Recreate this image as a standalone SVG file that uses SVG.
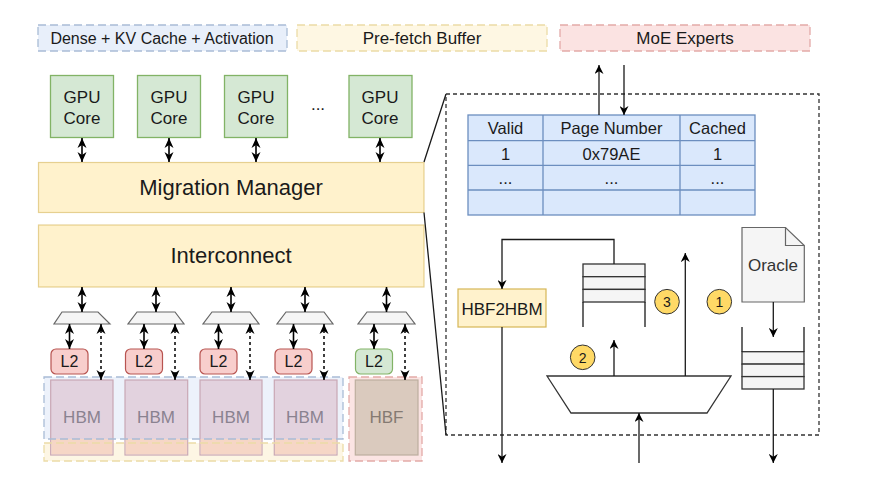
<svg xmlns="http://www.w3.org/2000/svg" width="876" height="493" viewBox="0 0 876 493">
<style>
text{font-family:"Liberation Sans",Arial,sans-serif;fill:#1a1a1a;text-anchor:middle}
.gpu{fill:#d5e8d4;stroke:#82b366;stroke-width:1.3}
.bar{fill:#fff2cc;stroke:#d6b656;stroke-width:1.2;stroke-opacity:.6}
.mux{fill:#f5f5f5;stroke:#666;stroke-width:1.2}
.l2r{fill:#f8cecc;stroke:#b85450;stroke-width:1.2}
.l2g{fill:#d5e8d4;stroke:#82b366;stroke-width:1.2}
.hbm{fill:#e2d2de;stroke:#c9a7b4;stroke-width:1.2}
.dbl{stroke:#000;stroke-width:1.6;fill:none;marker-start:url(#ab);marker-end:url(#ab)}
.dsh{stroke:#000;stroke-width:1.5;fill:none;stroke-dasharray:3 3;marker-start:url(#ab);marker-end:url(#ab)}
.ln{stroke:#1a1a1a;stroke-width:1.3;fill:none}
.arr{stroke:#1a1a1a;stroke-width:1.3;fill:none;marker-end:url(#ah)}
.stk{fill:#f5f5f5;stroke:#333;stroke-width:1.3}
.num{fill:#ffd966;stroke:#333;stroke-width:1}
.tbl{fill:#dae8fc;stroke:#6c8ebf;stroke-width:1.3}
</style>
<defs>
<marker id="ah" viewBox="0 0 10 10" refX="10" refY="5" markerWidth="9" markerHeight="9" orient="auto-start-reverse" markerUnits="userSpaceOnUse">
<path d="M0,0 L10,5 L0,10 L3,5 Z" fill="#000" stroke="none"/>
</marker>
<marker id="ab" viewBox="0 0 10 10" refX="10" refY="5" markerWidth="10" markerHeight="10" orient="auto-start-reverse" markerUnits="userSpaceOnUse">
<path d="M0,0.5 L10,5 L0,9.5 L3,5 Z" fill="#000" stroke="none"/>
</marker>
</defs>
<rect width="876" height="493" fill="#fff"/>

<g id="legend">
<rect x="38" y="25" width="249" height="26" fill="#e8effa" stroke="#a9bcd6" stroke-width="1.3" stroke-dasharray="8 4"/>
<text x="162" y="44" font-size="16">Dense + KV Cache + Activation</text>
<rect x="297" y="25" width="250" height="26" fill="#fef7e3" stroke="#ecdca7" stroke-width="1.3" stroke-dasharray="8 4"/>
<text x="422" y="44" font-size="17">Pre-fetch Buffer</text>
<rect x="560" y="25" width="250" height="26" fill="#fbe3e2" stroke="#e3aaa8" stroke-width="1.3" stroke-dasharray="8 4"/>
<text x="685" y="44" font-size="17">MoE Experts</text>
</g>

<g id="gpu1"><rect class="gpu" x="50.5" y="75.5" width="63" height="62"/><text x="82" y="103" font-size="17">GPU</text><text x="82" y="124" font-size="17">Core</text></g>
<g id="gpu2"><rect class="gpu" x="137.5" y="75.5" width="63" height="62"/><text x="169" y="103" font-size="17">GPU</text><text x="169" y="124" font-size="17">Core</text></g>
<g id="gpu3"><rect class="gpu" x="224.5" y="75.5" width="63" height="62"/><text x="256" y="103" font-size="17">GPU</text><text x="256" y="124" font-size="17">Core</text></g>
<g id="gpu-dots"><text x="318" y="110" font-size="17">...</text></g>
<g id="gpu4"><rect class="gpu" x="349" y="75.5" width="63" height="62"/><text x="380" y="103" font-size="17">GPU</text><text x="380" y="124" font-size="17">Core</text></g>

<g id="migration-manager"><rect class="bar" x="38.5" y="162.5" width="385.5" height="50"/><text x="231" y="195" font-size="22">Migration Manager</text></g>
<g id="interconnect"><rect class="bar" x="38.5" y="225" width="385.5" height="62"/><text x="231" y="263" font-size="22">Interconnect</text></g>

<g id="memory-regions">
<rect x="44" y="377" width="299" height="62" fill="#edf2fb"/>
<rect x="44" y="443" width="299" height="18" fill="#fdf6e4"/>
<rect x="349" y="377" width="73" height="84" fill="#fbe4e3"/>
</g>

<g id="hbm1"><rect class="hbm" x="50.7" y="380" width="62.3" height="75"/><rect x="51.3" y="439" width="61.1" height="15.4" fill="#f6d6c6"/><text x="82" y="423" font-size="17" style="fill:#8a8290">HBM</text></g>
<g id="hbm2"><rect class="hbm" x="125" y="380" width="62.7" height="75"/><rect x="125.6" y="439" width="61.5" height="15.4" fill="#f6d6c6"/><text x="156" y="423" font-size="17" style="fill:#8a8290">HBM</text></g>
<g id="hbm3"><rect class="hbm" x="200" y="380" width="62" height="75"/><rect x="200.6" y="439" width="60.8" height="15.4" fill="#f6d6c6"/><text x="231" y="423" font-size="17" style="fill:#8a8290">HBM</text></g>
<g id="hbm4"><rect class="hbm" x="274.3" y="380" width="62.7" height="75"/><rect x="274.9" y="439" width="61.5" height="15.4" fill="#f6d6c6"/><text x="305" y="423" font-size="17" style="fill:#8a8290">HBM</text></g>
<g id="hbf"><rect x="355.3" y="380" width="62.7" height="75" fill="#dacabe" stroke="#bdae9e" stroke-width="1.2"/><text x="386.5" y="423" font-size="17" style="fill:#857a72">HBF</text></g>

<g id="memory-region-outlines" fill="none" stroke-width="1.3" stroke-dasharray="8 4">
<rect x="44" y="377" width="299" height="62" stroke="#a9bcd6"/>
<rect x="44" y="443" width="299" height="18" stroke="#ecdca7"/>
<rect x="349" y="377" width="73" height="84" stroke="#e3aaa8"/>
</g>

<g id="mux1"><polygon class="mux" points="62,312 98,312 110,324 54,324"/></g>
<g id="mux2"><polygon class="mux" points="137,312 175,312 184,324 128,324"/></g>
<g id="mux3"><polygon class="mux" points="212,312 250,312 259,324 203,324"/></g>
<g id="mux4"><polygon class="mux" points="286,312 324,312 333,324 277,324"/></g>
<g id="mux5"><polygon class="mux" points="367,312 406,312 415,324 358,324"/></g>

<g id="l2-1"><rect class="l2r" x="51" y="349" width="37" height="25" rx="5"/><text x="69.5" y="367" font-size="16">L2</text></g>
<g id="l2-2"><rect class="l2r" x="125.5" y="349" width="37" height="25" rx="5"/><text x="144" y="367" font-size="16">L2</text></g>
<g id="l2-3"><rect class="l2r" x="200" y="349" width="37" height="25" rx="5"/><text x="218.5" y="367" font-size="16">L2</text></g>
<g id="l2-4"><rect class="l2r" x="275" y="349" width="37" height="25" rx="5"/><text x="293.5" y="367" font-size="16">L2</text></g>
<g id="l2-5"><rect class="l2g" x="355.5" y="349" width="37" height="25" rx="5"/><text x="374" y="367" font-size="16">L2</text></g>

<g id="detail-frame">
<rect x="446" y="94" width="373" height="341" fill="none" stroke="#333" stroke-width="1.3" stroke-dasharray="4 3"/>
</g>

<g id="page-table">
<rect class="tbl" x="468" y="115" width="287" height="100"/>
<path d="M468,140.7H755M468,165.3H755M468,190H755M543,115V215M680,115V215" stroke="#6c8ebf" stroke-width="1.3" fill="none"/>
<text x="505.5" y="134" font-size="16.5">Valid</text>
<text x="611.5" y="134" font-size="16.5">Page Number</text>
<text x="717.5" y="134" font-size="16.5">Cached</text>
<text x="505.5" y="159.5" font-size="16.5">1</text>
<text x="611.5" y="159.5" font-size="16.5">0x79AE</text>
<text x="717.5" y="159.5" font-size="16.5">1</text>
<text x="505.5" y="184" font-size="16.5">...</text>
<text x="611.5" y="184" font-size="16.5">...</text>
<text x="717.5" y="184" font-size="16.5">...</text>
</g>

<g id="hbf2hbm"><rect x="458" y="289" width="88" height="38" fill="#fff2cc" stroke="#d6b656" stroke-width="1.2"/><text x="502" y="315" font-size="17">HBF2HBM</text></g>

<g id="queue-top">
<rect class="stk" x="583" y="264" width="62" height="12.7"/>
<rect class="stk" x="583" y="276.7" width="62" height="12.7"/>
<rect class="stk" x="583" y="289.4" width="62" height="12.6"/>
<path class="ln" d="M583,302V327M645,302V327"/>
</g>

<g id="queue-right">
<rect class="stk" x="742" y="351.7" width="62" height="12.4"/>
<rect class="stk" x="742" y="364.1" width="62" height="12.5"/>
<rect class="stk" x="742" y="376.6" width="62" height="12.4"/>
<path class="ln" d="M742,327V351.7M804,327V351.7"/>
</g>

<g id="oracle">
<path d="M742,227.5H785.5L804.3,245.5V302H742Z" fill="#f5f5f5" stroke="#666" stroke-width="1.2"/>
<path d="M785.5,227.5V245.5H804.3" fill="none" stroke="#666" stroke-width="1.2"/>
<text x="773" y="271" font-size="17" style="fill:#333">Oracle</text>
</g>

<g id="selector"><polygon points="547,376 731,376 707,413 571,413" fill="#fff" stroke="#333" stroke-width="1.3"/></g>

<g id="step1"><circle class="num" cx="719.3" cy="301.7" r="12.3"/><text x="719.3" y="307" font-size="14">1</text></g>
<g id="step2"><circle class="num" cx="582.7" cy="357.3" r="12.3"/><text x="582.7" y="362.6" font-size="14">2</text></g>
<g id="step3"><circle class="num" cx="667" cy="301.7" r="12.3"/><text x="667" y="307" font-size="14">3</text></g>

<g id="connectors">
<path class="dbl" d="M82,138V162"/>
<path class="dbl" d="M169,138V162"/>
<path class="dbl" d="M256,138V162"/>
<path class="dbl" d="M380,138V162"/>
<path class="dbl" d="M82,287V312"/>
<path class="dbl" d="M156,287V312"/>
<path class="dbl" d="M231,287V312"/>
<path class="dbl" d="M305,287V312"/>
<path class="dbl" d="M386.5,287V312"/>
<path class="dbl" d="M69.5,324V349"/>
<path class="dbl" d="M144,324V349"/>
<path class="dbl" d="M218.5,324V349"/>
<path class="dbl" d="M293.5,324V349"/>
<path class="dbl" d="M374,324V349"/>
<path class="dsh" d="M101,324V380"/>
<path class="dsh" d="M175,324V380"/>
<path class="dsh" d="M250,324V380"/>
<path class="dsh" d="M324,324V380"/>
<path class="dsh" d="M405,324V380"/>
<path class="ln" d="M424,162L446,94M424,212.5L446,435"/>
<path class="arr" d="M599,115V65"/>
<path class="arr" d="M624,65V115"/>
<path class="arr" d="M614,264V239.5H502V289"/>
<path class="arr" d="M502,327V463"/>
<path class="arr" d="M614,376V340"/>
<path class="arr" d="M685.3,376V253"/>
<path class="arr" d="M639,463V413"/>
<path class="arr" d="M773.3,302V337"/>
<path class="arr" d="M773.3,389V463"/>
</g>
</svg>
